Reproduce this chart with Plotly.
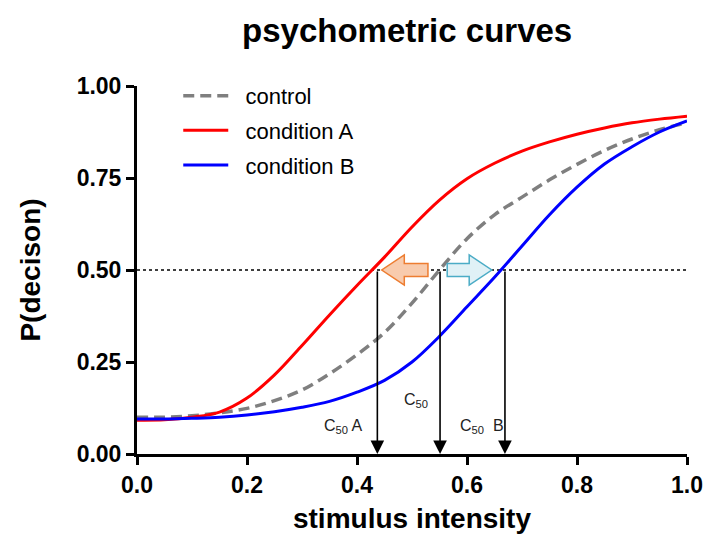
import plotly.graph_objects as go

# ---- data ----
x_vals = [0.0, 0.05, 0.10, 0.15, 0.20, 0.25, 0.30, 0.35, 0.40, 0.45, 0.50,
          0.55, 0.60, 0.65, 0.70, 0.75, 0.80, 0.85, 0.90, 0.95, 1.0]
control = [0.100, 0.100, 0.104, 0.112, 0.124, 0.145, 0.174, 0.218, 0.270, 0.330, 0.410,
           0.500, 0.585, 0.650, 0.698, 0.745, 0.787, 0.825, 0.856, 0.881, 0.900]
cond_a = [0.092, 0.093, 0.100, 0.114, 0.152, 0.215, 0.295, 0.378, 0.458, 0.535, 0.617,
          0.690, 0.748, 0.790, 0.823, 0.848, 0.869, 0.886, 0.900, 0.910, 0.918]
cond_b = [0.095, 0.095, 0.097, 0.100, 0.106, 0.115, 0.127, 0.143, 0.168, 0.200, 0.250,
          0.320, 0.400, 0.480, 0.565, 0.650, 0.725, 0.788, 0.835, 0.875, 0.905]

series_names = ["control", "condition A", "condition B"]
c50_values = {"A": 0.437, "control": 0.551, "B": 0.669}
threshold = 0.5
x_ticks = [0.0, 0.2, 0.4, 0.6, 0.8, 1.0]
y_ticks = [0.0, 0.25, 0.5, 0.75, 1.0]

FONT = "Liberation Sans, Arial, Helvetica, sans-serif"
NB = "\u00a0\u00a0"  # spacing between legend line and label

fig = go.Figure()

# dotted threshold line
fig.add_trace(go.Scatter(x=[0, 1], y=[threshold, threshold], mode="lines",
                         line=dict(color="black", width=1.3, dash="dot"),
                         showlegend=False, hoverinfo="skip"))

styles = [dict(color="#7f7f7f", width=3.5, dash="11px,6px"),
          dict(color="#ff0000", width=3),
          dict(color="#0000ff", width=3)]
for name, ys, st in zip(series_names, [control, cond_a, cond_b], styles):
    fig.add_trace(go.Scatter(x=x_vals, y=ys, name=NB + name, mode="lines",
                             legendgroup=name, line=dict(shape="spline", **st)))

# block arrows (shift of C50)
def block_arrow(x_start, x_end, fill, edge):
    d = 1 if x_end > x_start else -1
    head_len = 0.041
    body_h, head_h = 0.018, 0.041
    xh = x_end - d * head_len
    y0 = threshold
    path = (f"M {x_start},{y0 - body_h} L {xh},{y0 - body_h} L {xh},{y0 - head_h} "
            f"L {x_end},{y0} L {xh},{y0 + head_h} L {xh},{y0 + body_h} "
            f"L {x_start},{y0 + body_h} Z")
    fig.add_shape(type="path", path=path, xref="x", yref="y",
                  fillcolor=fill, line=dict(color=edge, width=1.5), layer="above")

block_arrow(c50_values["control"] - 0.022, c50_values["A"] + 0.008, "#f8cbad", "#ed7d31")
block_arrow(c50_values["control"] + 0.013, c50_values["B"] - 0.024, "#e0f1f6", "#4bacc6")

# vertical arrows from curves down to axis
for key in ["A", "control", "B"]:
    c = c50_values[key]
    fig.add_annotation(x=c, y=0, ax=c, ay=threshold, xref="x", yref="y",
                       axref="x", ayref="y", text="", showarrow=True,
                       arrowhead=2, arrowsize=1.7, arrowwidth=1.6, arrowcolor="black",
                       standoff=0)

lab_font = dict(family=FONT, size=16, color="#222")
fig.add_annotation(x=c50_values["A"] - 0.062, y=0.075, text="C<sub>50</sub> A",
                   showarrow=False, font=lab_font, xref="x", yref="y")
fig.add_annotation(x=c50_values["control"] - 0.044, y=0.145, text="C<sub>50</sub>",
                   showarrow=False, font=lab_font, xref="x", yref="y")
fig.add_annotation(x=c50_values["B"] - 0.042, y=0.075, text="C<sub>50</sub>  B",
                   showarrow=False, font=lab_font, xref="x", yref="y")

axis_font = dict(family=FONT, size=28, color="black", weight="bold")
tick_font = dict(family=FONT, size=23, color="black", weight="bold")
fig.update_layout(
    width=699, height=526,
    margin=dict(l=129, r=20, t=78, b=80, autoexpand=False),
    paper_bgcolor="white", plot_bgcolor="white",
    title=dict(text="psychometric curves", x=0.571, xanchor="center",
               y=0.958, yanchor="middle", xref="container", yref="container",
               font=dict(family=FONT, size=33, color="black", weight="bold")),
    showlegend=True,
    legend=dict(x=0.075, y=1.03, xanchor="left", yanchor="top",
                font=dict(family=FONT, size=22, color="black"),
                bgcolor="rgba(0,0,0,0)", itemwidth=45, tracegroupgap=3),
    xaxis=dict(range=[0, 1], tickvals=x_ticks, tickformat=".1f", automargin=False,
               showgrid=False, zeroline=False, showline=True, linecolor="black",
               linewidth=3, ticks="outside", ticklen=8, tickwidth=2.5, tickcolor="black",
               tickfont=tick_font, ticklabeloverflow="allow",
               title=dict(text="stimulus intensity", font=axis_font, standoff=12)),
    yaxis=dict(range=[0, 1], tickvals=y_ticks, tickformat=".2f", automargin=False,
               showgrid=False, zeroline=False, showline=True, linecolor="black",
               linewidth=3, ticks="outside", ticklen=8, tickwidth=2.5, tickcolor="black",
               tickfont=tick_font,
               title=dict(text="P(decison)", font=axis_font, standoff=28)),
)

fig.write_html("out.html")
